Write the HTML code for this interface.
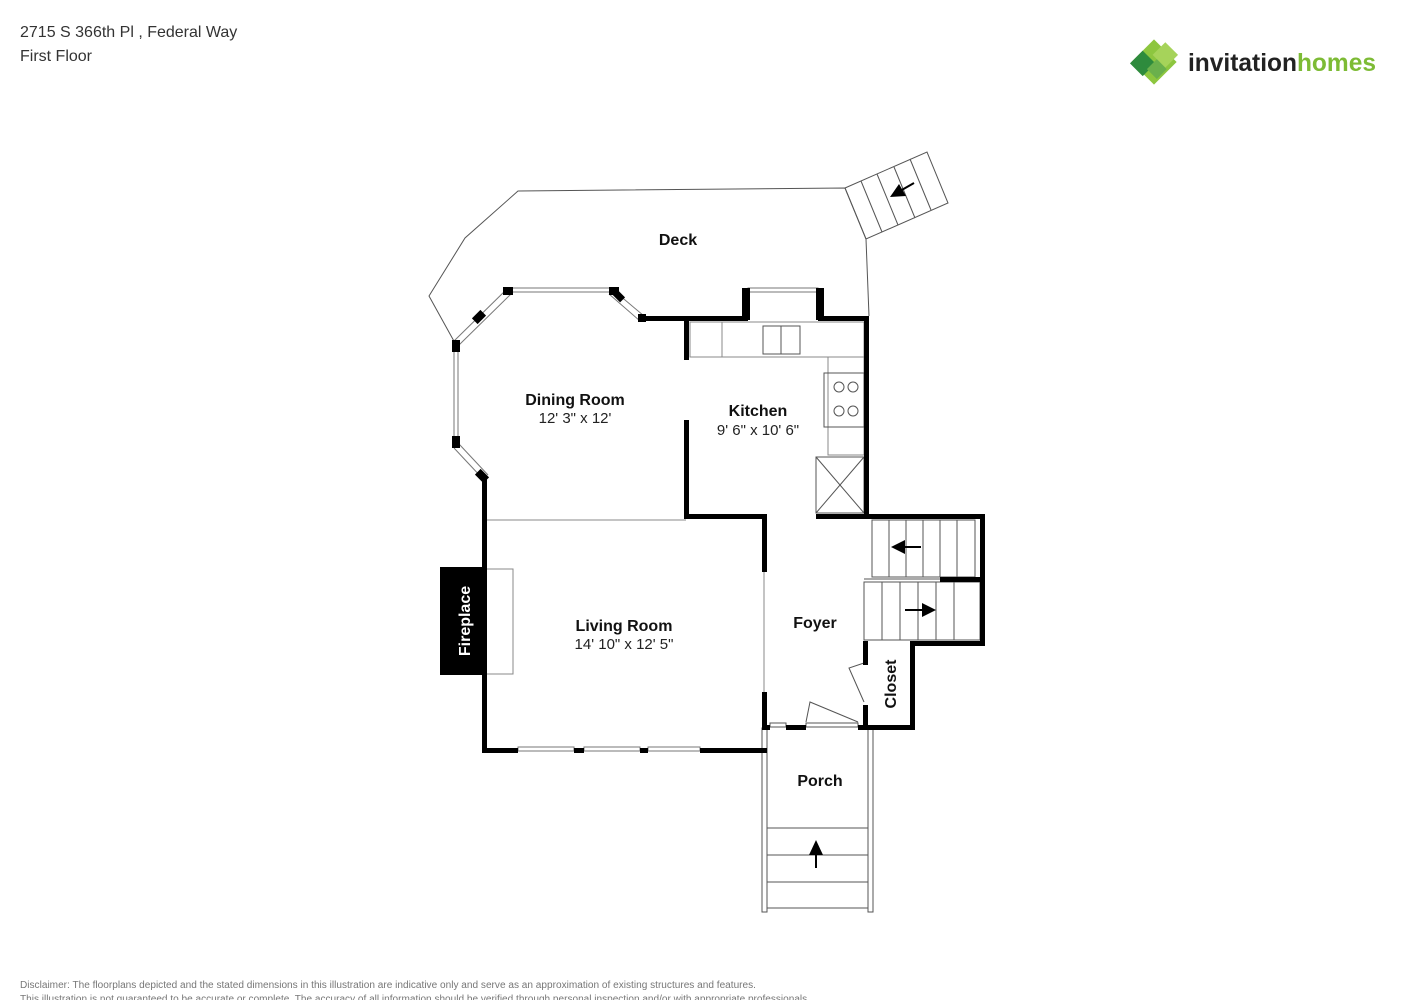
<!DOCTYPE html>
<html><head><meta charset="utf-8"><style>
body{margin:0;background:#fff;width:1414px;height:1000px;overflow:hidden;font-family:"Liberation Sans",sans-serif}
</style></head><body>
<svg width="1414" height="1000" viewBox="0 0 1414 1000" xmlns="http://www.w3.org/2000/svg" font-family="Liberation Sans, sans-serif">
<text x="20" y="37" font-size="16" fill="#333">2715 S 366th Pl , Federal Way</text>
<text x="20" y="61" font-size="16" fill="#333">First Floor</text>
<!-- logo -->
<g transform="translate(1154,62) rotate(45)">
<rect x="-16" y="-16" width="32" height="32" fill="#8dc63f"/>
<rect x="-6" y="-22" width="18" height="18" fill="#a6d35a"/>
<rect x="-16" y="0" width="18" height="18" fill="#2e8b3d"/>
<rect x="0" y="-4" width="14" height="14" fill="#6ab04c"/>
</g>
<text x="1188" y="71" font-size="25" fill="#222" font-weight="bold" textLength="188" lengthAdjust="spacingAndGlyphs">invitation<tspan fill="#7dbb35">homes</tspan></text>

<g fill="none" stroke="#555" stroke-width="1">
<!-- deck -->
<polyline points="455,343 429,296 465,238 518,191 845,188 866,239 869,316"/>
<polygon points="845,188 927,152 948,203 866,239"/>
<line x1="861" y1="181" x2="882" y2="232"/><line x1="877" y1="174" x2="898" y2="225"/><line x1="894" y1="167" x2="915" y2="218"/><line x1="910" y1="159" x2="931" y2="210"/>
<!-- dividers -->
<line x1="486" y1="520" x2="686" y2="520" stroke="#888"/>
<line x1="764" y1="572" x2="764" y2="692" stroke="#888"/>
<!-- windows -->
<rect x="510" y="288" width="100" height="4" stroke="#777"/>
<rect x="748" y="288" width="70" height="4" stroke="#777"/>
<rect x="454" y="343" width="4" height="102" stroke="#777"/>
<line x1="454" y1="341" x2="508" y2="288" stroke="#777"/><line x1="459" y1="345" x2="512" y2="293" stroke="#777"/>
<line x1="612" y1="289" x2="644" y2="316" stroke="#777"/><line x1="609" y1="294" x2="640" y2="321" stroke="#777"/>
<line x1="454" y1="448" x2="483" y2="479" stroke="#777"/><line x1="459" y1="444" x2="488" y2="475" stroke="#777"/>
<rect x="518" y="747" width="56" height="4" stroke="#777"/><rect x="584" y="747" width="56" height="4" stroke="#777"/><rect x="648" y="747" width="52" height="4" stroke="#777"/>
<!-- kitchen -->
<rect x="690" y="322" width="174" height="35" stroke="#888"/>
<line x1="722" y1="322" x2="722" y2="357" stroke="#888"/>
<rect x="763" y="326" width="37" height="28"/><line x1="781" y1="326" x2="781" y2="354"/>
<rect x="828" y="357" width="36" height="98" stroke="#888"/>
<rect x="824" y="373" width="40" height="54"/>
<circle cx="839" cy="387" r="5"/><circle cx="853" cy="387" r="5"/><circle cx="839" cy="411" r="5"/><circle cx="853" cy="411" r="5"/>
<rect x="816" y="457" width="48" height="56"/><line x1="816" y1="457" x2="864" y2="513"/><line x1="864" y1="457" x2="816" y2="513"/>
<rect x="486" y="569" width="27" height="105" stroke="#888"/>
<!-- stairs -->
<rect x="872" y="520" width="103" height="57"/>
<line x1="889" y1="520" x2="889" y2="577"/><line x1="906" y1="520" x2="906" y2="577"/><line x1="923" y1="520" x2="923" y2="577"/><line x1="940" y1="520" x2="940" y2="577"/><line x1="957" y1="520" x2="957" y2="577"/>
<rect x="864" y="582" width="116" height="58"/>
<line x1="882" y1="582" x2="882" y2="640"/><line x1="900" y1="582" x2="900" y2="640"/><line x1="918" y1="582" x2="918" y2="640"/><line x1="936" y1="582" x2="936" y2="640"/><line x1="954" y1="582" x2="954" y2="640"/>
<line x1="864" y1="579" x2="940" y2="579"/>
<!-- porch -->
<rect x="762" y="728" width="5" height="184"/><rect x="868" y="728" width="5" height="184"/>
<line x1="767" y1="828" x2="868" y2="828"/><line x1="767" y1="855" x2="868" y2="855"/><line x1="767" y1="882" x2="868" y2="882"/><line x1="767" y1="908" x2="868" y2="908"/>
<!-- doors -->
<path d="M806,722 L810,702 L858,722"/><path d="M864,702 L849,668 L864,663"/>
<rect x="770" y="723" width="16" height="4"/><rect x="806" y="723" width="52" height="4"/>
</g>

<g fill="#000">
<!-- window wall pieces -->
<rect x="452" y="340" width="8" height="12"/>
<rect x="503" y="287" width="10" height="8"/>
<rect x="475" y="311" width="8" height="12" transform="rotate(45 479 317)"/>
<rect x="609" y="287" width="10" height="8"/>
<rect x="615" y="290" width="7" height="12" transform="rotate(-45 618 296)"/>
<rect x="638" y="314" width="8" height="8"/>
<rect x="452" y="436" width="8" height="12"/>
<rect x="478" y="470" width="8" height="12" transform="rotate(-45 482 476)"/>
<!-- walls -->
<rect x="640" y="316" width="108" height="5"/>
<rect x="742" y="288" width="8" height="32"/><rect x="816" y="288" width="8" height="32"/>
<rect x="818" y="316" width="51" height="5"/>
<rect x="864" y="316" width="5" height="202"/>
<rect x="684" y="318" width="5" height="42"/><rect x="684" y="420" width="5" height="99"/>
<rect x="684" y="514" width="82" height="5"/>
<rect x="762" y="514" width="5" height="58"/><rect x="762" y="692" width="5" height="38"/>
<rect x="816" y="514" width="169" height="5"/>
<rect x="980" y="514" width="5" height="131"/>
<rect x="940" y="577" width="45" height="5"/>
<rect x="912" y="641" width="73" height="5"/>
<rect x="863" y="641" width="5" height="24"/><rect x="863" y="705" width="5" height="24"/>
<rect x="910" y="641" width="5" height="89"/>
<rect x="858" y="725" width="57" height="5"/>
<rect x="764" y="725" width="6" height="5"/><rect x="786" y="725" width="20" height="5"/>
<rect x="482" y="748" width="36" height="5"/><rect x="574" y="748" width="10" height="5"/><rect x="640" y="748" width="8" height="5"/><rect x="700" y="748" width="67" height="5"/>
<rect x="482" y="476" width="5" height="277"/>
<rect x="440" y="567" width="46" height="108"/>
<!-- arrows -->
<line x1="914" y1="183" x2="900" y2="191" stroke="#000" stroke-width="2"/><polygon points="890,197 899,184 906,196"/>
<line x1="921" y1="547" x2="900" y2="547" stroke="#000" stroke-width="2"/><polygon points="891,547 905,540 905,554"/>
<line x1="905" y1="610" x2="926" y2="610" stroke="#000" stroke-width="2"/><polygon points="936,610 922,603 922,617"/>
<line x1="816" y1="868" x2="816" y2="850" stroke="#000" stroke-width="2"/><polygon points="816,840 809,855 823,855"/>
</g>

<g font-weight="bold" font-size="16" text-anchor="middle" fill="#111">
<text x="678" y="245">Deck</text>
<text x="575" y="405">Dining Room</text>
<text x="758" y="416">Kitchen</text>
<text x="624" y="631">Living Room</text>
<text x="815" y="628">Foyer</text>
<text x="820" y="786">Porch</text>
<text transform="translate(470,621) rotate(-90)" fill="#fff">Fireplace</text>
<text transform="translate(896,684) rotate(-90)">Closet</text>
</g>
<g font-size="15" text-anchor="middle" fill="#222">
<text x="575" y="423">12' 3" x 12'</text>
<text x="758" y="435">9' 6" x 10' 6"</text>
<text x="624" y="649">14' 10" x 12' 5"</text>
</g>
<text x="20" y="988" font-size="10" fill="#777" textLength="736" lengthAdjust="spacingAndGlyphs">Disclaimer: The floorplans depicted and the stated dimensions in this illustration are indicative only and serve as an approximation of existing structures and features.</text>
<text x="20" y="1002" font-size="10" fill="#777" textLength="790" lengthAdjust="spacingAndGlyphs">This illustration is not guaranteed to be accurate or complete. The accuracy of all information should be verified through personal inspection and/or with appropriate professionals.</text>
</svg>
</body></html>
